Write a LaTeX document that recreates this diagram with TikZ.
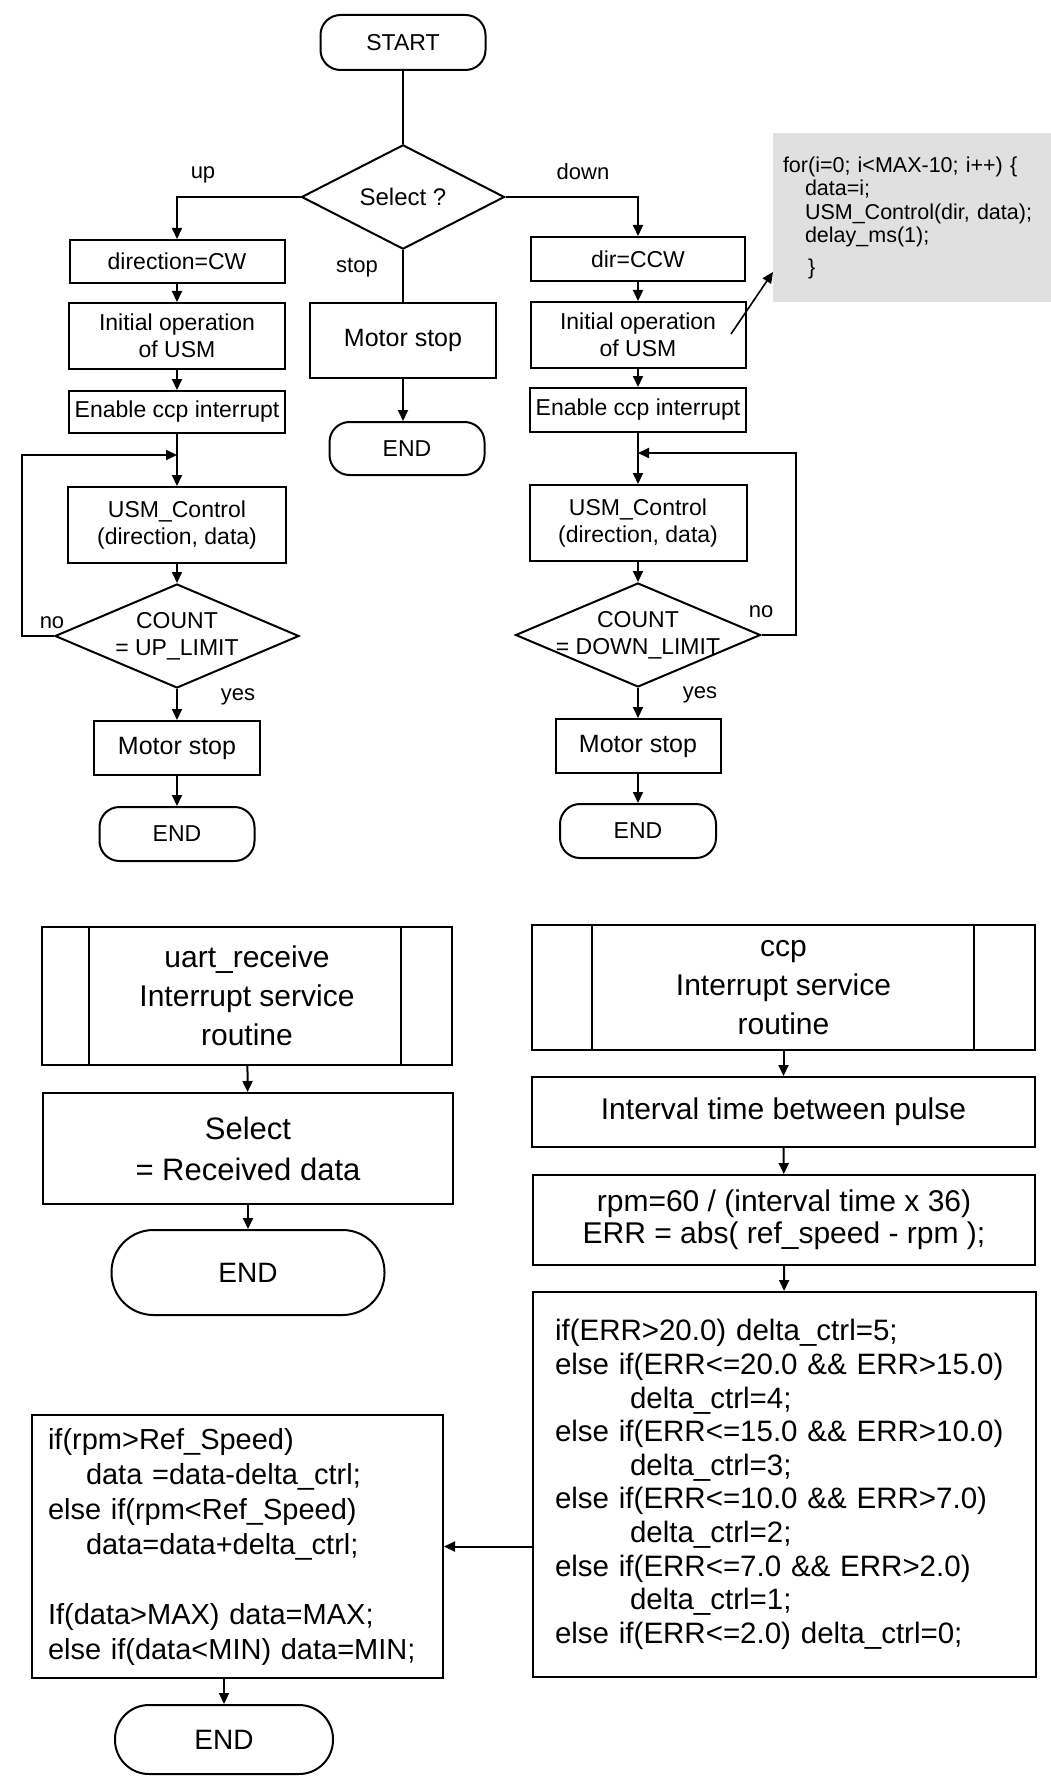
\documentclass[tikz,border=0pt]{standalone}
\usepackage{fontspec}
\setmainfont{Liberation Sans}
\usetikzlibrary{shapes.geometric,arrows.meta,calc}
\begin{document}
\begin{tikzpicture}[x=1pt,y=-1pt,line width=2pt,
  every node/.style={font=\fontsize{23}{27}\selectfont},
  box/.style={draw,rectangle,inner sep=0pt,align=center},
  term/.style={draw,rectangle,rounded corners=#1,inner sep=0pt},
  dec/.style={draw,diamond,inner sep=0pt,align=center},
  arr/.style={-{Triangle[length=11pt,width=10pt]}},
  lbl/.style={inner sep=0pt,font=\fontsize{22}{26}\selectfont},
  big/.style={font=\fontsize{30}{39}\selectfont},
  code/.style={font=\fontsize{29.5}{33.6}\selectfont,align=left}
]
\useasboundingbox (0,0) rectangle (1051,1776);

% ---------- top part ----------
\node[term=20pt,minimum width=165,minimum height=55] (start) at (403,42.5) {START};
\node[dec,minimum width=203,minimum height=103,font=\fontsize{24}{28}\selectfont] (sel) at (403,197) {Select ?};

% left column
\node[box,minimum width=215,minimum height=43] (cw) at (177,261.5) {direction=CW};
\node[box,minimum width=216,minimum height=66] (initL) at (177,336) {Initial operation\\of USM};
\node[box,minimum width=216,minimum height=42] (enL) at (177,412) {Enable ccp interrupt};
\node[box,minimum width=218,minimum height=76] (ctrlL) at (177,525) {USM\_Control\\(direction, data)};
\node[dec,minimum width=244,minimum height=104] (cntL) at (177,636)
  {\makebox[0pt]{COUNT}\\\makebox[0pt]{= UP\_LIMIT}};
\node[box,minimum width=166,minimum height=54,font=\fontsize{25}{29}\selectfont] (stopL) at (177,748) {Motor stop};
\node[term=20pt,minimum width=155,minimum height=54] (endL) at (177,834) {END};

% middle column
\node[box,minimum width=186,minimum height=75,font=\fontsize{25}{29}\selectfont] (stopm) at (403,340.5) {Motor stop};
\node[term=20pt,minimum width=155,minimum height=53] (endm) at (407,448.5) {END};

% right column
\node[box,minimum width=214,minimum height=44] (ccw) at (638,259) {dir=CCW};
\node[box,minimum width=215,minimum height=66] (initR) at (638,335) {Initial operation\\of USM};
\node[box,minimum width=216,minimum height=44] (enR) at (638,410) {Enable ccp interrupt};
\node[box,minimum width=217,minimum height=76] (ctrlR) at (638,523) {USM\_Control\\(direction, data)};
\node[dec,minimum width=245,minimum height=104] (cntR) at (638,635)
  {\makebox[0pt]{COUNT}\\\makebox[0pt]{= DOWN\_LIMIT}};
\node[box,minimum width=165,minimum height=54,font=\fontsize{25}{29}\selectfont] (stopR) at (638,746) {Motor stop};
\node[term=20pt,minimum width=156,minimum height=54] (endR) at (638,831) {END};

% code annotation
\node[fill=black!12,inner xsep=10pt,inner ysep=0pt,minimum width=278,minimum height=169,
      text width=258,align=left,font=\fontsize{21.5}{23.5}\selectfont] (codeann) at (912,217.5)
  {for(i=0; i<MAX-10; i++) \{\\
   \hspace*{22pt}data=i;\\
   \hspace*{22pt}USM\_Control(dir, data);\\
   \hspace*{22pt}delay\_ms(1);\\[8pt]
   \hspace*{25pt}\}};
\coordinate (annA) at (731,334);
\coordinate (annB) at (773,272);

% labels
\node[lbl] (lup) at (203,175) {up};
\node[lbl] (lstop) at (357,268) {stop};
\node[lbl] (ldown) at (583,172) {down};
\node[lbl] (lnoL) at (52,623) {no};
\node[lbl] (lyesL) at (238,697) {yes};
\node[lbl] (lnoR) at (761,612) {no};
\node[lbl] (lyesR) at (700,695) {yes};

% connectors top
\draw (start.south) -- (sel.north);
\draw[arr] (sel.west) -| (cw.north);
\draw[arr] (sel.east) -| (ccw.north);
\draw (sel.south) -- (stopm.north);
\draw[arr] (stopm.south) -- (stopm.south |- endm.north);

\draw[arr] (cw) -- (initL);
\draw[arr] (initL) -- (enL);
\draw[arr] (enL) -- (ctrlL);
\draw[arr] (ctrlL) -- (cntL);
\draw[arr] (cntL) -- (stopL);
\draw[arr] (stopL) -- (endL);
\coordinate (junL) at (177,455);
\draw[arr] (cntL.west) -- ++(-32,0) |- (junL);

\draw[arr] (ccw) -- (initR);
\draw[arr] (initR) -- (enR);
\draw[arr] (enR) -- (ctrlR);
\draw[arr] (ctrlR) -- (cntR);
\draw[arr] (cntR) -- (stopR);
\draw[arr] (stopR) -- (endR);
\coordinate (junR) at (638,453);
\draw[arr] (cntR.east) -- ++(34.5,0) |- (junR);

\draw[arr,line width=1.6pt] (annA) -- (annB);

% ---------- bottom part ----------
\node[box,big,minimum width=410,minimum height=138] (uart) at (247,996)
  {uart\_receive\\Interrupt service\\routine};
\draw ([xshift=48pt]uart.north west) -- ([xshift=48pt]uart.south west);
\draw ([xshift=-52pt]uart.north east) -- ([xshift=-52pt]uart.south east);
\node[box,minimum width=410,minimum height=111,font=\fontsize{31}{41}\selectfont] (sel2) at (248,1148.5)
  {Select\\= Received data};
\node[term=42pt,minimum width=273,minimum height=85,font=\fontsize{28}{32}\selectfont] (end3) at (248,1272.5) {END};

\node[box,big,minimum width=503,minimum height=125] (ccp) at (783.5,987.5)
  {ccp\\Interrupt service\\routine};
\draw ([xshift=61pt]ccp.north west) -- ([xshift=61pt]ccp.south west);
\draw ([xshift=-62pt]ccp.north east) -- ([xshift=-62pt]ccp.south east);
\node[box,big,minimum width=503,minimum height=70] (intv) at (783.5,1112) {Interval time between pulse};
\node[box,minimum width=502,minimum height=90,font=\fontsize{30}{32}\selectfont] (rpm) at (784,1220)
  {rpm=60 / (interval time x 36)\\ERR = abs( ref\_speed - rpm );};
\node[draw,rectangle,code,inner xsep=22pt,inner ysep=0pt,text width=459,minimum height=385] (ifb) at (784.5,1484.5)
  {if(ERR>20.0) delta\_ctrl=5;\\
   else if(ERR<=20.0 \&\& ERR>15.0)\\
   \hspace*{75pt}delta\_ctrl=4;\\
   else if(ERR<=15.0 \&\& ERR>10.0)\\
   \hspace*{75pt}delta\_ctrl=3;\\
   else if(ERR<=10.0 \&\& ERR>7.0)\\
   \hspace*{75pt}delta\_ctrl=2;\\
   else if(ERR<=7.0 \&\& ERR>2.0)\\
   \hspace*{75pt}delta\_ctrl=1;\\
   else if(ERR<=2.0) delta\_ctrl=0;};
\node[draw,rectangle,code,font=\fontsize{29}{35}\selectfont,inner xsep=16pt,inner ysep=0pt,text width=379,minimum height=263] (lft) at (237.5,1546.5)
  {if(rpm>Ref\_Speed)\\
   \hspace*{38pt}data =data-delta\_ctrl;\\
   else if(rpm<Ref\_Speed)\\
   \hspace*{38pt}data=data+delta\_ctrl;\\[35pt]
   If(data>MAX) data=MAX;\\
   else if(data<MIN) data=MIN;};
\node[term=34pt,minimum width=218,minimum height=69,font=\fontsize{28}{32}\selectfont] (end4) at (224,1739.5) {END};

\draw[arr] (uart) -- (sel2);
\draw[arr] (sel2) -- (end3);
\draw[arr] (ccp) -- (intv);
\draw[arr] (intv) -- (rpm);
\draw[arr] (rpm) -- (ifb);
\draw[arr] (lft.east -| ifb.west) -- (lft.east);
\draw[arr] (lft.south -| end4.north) -- (end4.north);
\end{tikzpicture}
\end{document}
